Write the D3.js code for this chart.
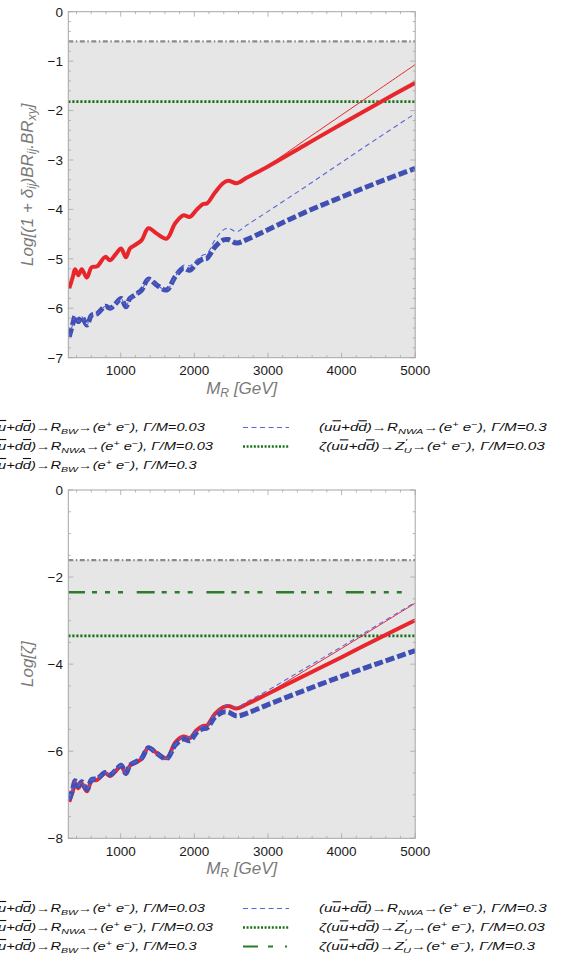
<!DOCTYPE html>
<html>
<head>
<meta charset="UTF-8">
<title>Log BR vs M_R</title>
<script src="https://cdn.jsdelivr.net/npm/d3@7"></script>
<style>
    body { margin: 0; background: #fff; }
    svg { display: block; font-family: "Liberation Sans", Arial, sans-serif; }
    .tick-label { font-size: 13.5px; fill: #1a1a1a; }
    .axis-title { font-size: 17px; font-style: italic; fill: #7a7a7a; }
    .legend text { font-size: 11px; font-style: italic; fill: #111; }
</style>
</head>
<body>
<script>
// resonance mass grid (GeV), shared by all series
var massGrid = [300, 350, 380, 425, 470, 540, 605, 680, 790, 855, 935, 1005, 1070, 1125, 1195, 1285, 1375, 1490,
    1625, 1740, 1850, 1940, 2030, 2120, 2170, 2280, 2390, 2460, 2575, 2710, 3000, 3500, 4000, 4500, 5000];

// top panel: Log[(1+delta_ij) BR_ij . BR_xy]
var topBW003 = [-5.60, -5.36, -5.21, -5.33, -5.21, -5.38, -5.17, -5.15, -4.96, -5.03, -4.90, -4.79, -4.97, -4.79, -4.72, -4.62, -4.38, -4.49,
    -4.59, -4.28, -4.12, -4.15, -4.01, -3.89, -3.88, -3.66, -3.47, -3.42, -3.47, -3.36, -3.13, -2.70, -2.27, -1.85, -1.44];
var topNWA003 = [-5.60, -5.36, -5.21, -5.33, -5.21, -5.38, -5.17, -5.15, -4.96, -5.03, -4.90, -4.79, -4.97, -4.79, -4.72, -4.62, -4.38, -4.49,
    -4.59, -4.28, -4.12, -4.15, -4.01, -3.89, -3.88, -3.66, -3.47, -3.42, -3.47, -3.36, -3.11, -2.60, -2.09, -1.58, -1.07];
var topBW03 = [-6.58, -6.31, -6.16, -6.27, -6.17, -6.34, -6.14, -6.11, -5.96, -6.00, -5.90, -5.80, -5.97, -5.80, -5.73, -5.63, -5.41, -5.53,
    -5.63, -5.36, -5.19, -5.23, -5.09, -5.00, -4.99, -4.76, -4.62, -4.61, -4.68, -4.61, -4.41, -4.06, -3.75, -3.45, -3.17];
var topNWA03 = [-6.58, -6.31, -6.16, -6.27, -6.17, -6.34, -6.14, -6.11, -5.96, -6.00, -5.90, -5.80, -5.97, -5.80, -5.73, -5.63, -5.41, -5.53,
    -5.63, -5.36, -5.13, -5.14, -5.02, -4.92, -4.90, -4.62, -4.42, -4.38, -4.45, -4.32, -4.04, -3.55, -3.05, -2.55, -2.06];
var topGrayLimit = -0.6;
var topDottedLimit = -1.82;

// bottom panel: Log[zeta]
var botBW003 = [-7.16, -6.92, -6.72, -6.85, -6.74, -6.92, -6.68, -6.66, -6.50, -6.57, -6.45, -6.33, -6.52, -6.33, -6.27, -6.17, -5.92, -6.04,
    -6.16, -5.80, -5.66, -5.70, -5.52, -5.42, -5.41, -5.14, -4.99, -4.96, -5.02, -4.92, -4.68, -4.26, -3.84, -3.41, -2.99];
var botNWA003 = [-7.16, -6.92, -6.72, -6.85, -6.74, -6.92, -6.68, -6.66, -6.50, -6.57, -6.45, -6.33, -6.52, -6.33, -6.27, -6.17, -5.92, -6.04,
    -6.16, -5.80, -5.66, -5.70, -5.52, -5.42, -5.41, -5.14, -4.99, -4.96, -5.02, -4.92, -4.66, -4.15, -3.64, -3.12, -2.60];
var botBW03 = [-7.12, -6.86, -6.68, -6.80, -6.70, -6.88, -6.65, -6.63, -6.49, -6.54, -6.43, -6.32, -6.51, -6.32, -6.25, -6.16, -5.92, -6.05,
    -6.17, -5.86, -5.72, -5.76, -5.57, -5.48, -5.47, -5.22, -5.10, -5.10, -5.19, -5.13, -4.93, -4.60, -4.28, -3.98, -3.69];
var botNWA03 = [-7.12, -6.86, -6.68, -6.80, -6.70, -6.88, -6.65, -6.63, -6.49, -6.54, -6.43, -6.32, -6.51, -6.32, -6.25, -6.16, -5.92, -6.05,
    -6.17, -5.86, -5.66, -5.68, -5.52, -5.42, -5.41, -5.14, -4.97, -4.93, -4.99, -4.87, -4.60, -4.10, -3.60, -3.09, -2.58];
var botGrayLimit = -1.61;
var botDashDotLimit = -2.35;
var botDottedLimit = -3.35;

var xTicks = [1000, 2000, 3000, 4000, 5000];
var topYTicks = [0, -1, -2, -3, -4, -5, -6, -7];
var botYTicks = [0, -2, -4, -6, -8];

var red = "#e8262c", blue = "#3f4fb4", blueThin = "#5a66d8", green = "#177317", gray = "#8a8a8a";

var svg = d3.select("body").append("svg")
    .attr("width", 565)
    .attr("height", 961);

var x = d3.scaleLinear().domain([288, 5000]).range([68.3, 415.2]);

// rich text: segments [text, kind, dx]
function rich(sel, segs) {
    var shift = 0;
    segs.forEach(function(s) {
        var kind = s[1] || "";
        var target = kind === "sub" ? 3 : kind === "sup" ? -4 : kind === "prime" ? -6 : 0;
        var ts = sel.append("tspan").attr("dy", target - shift).text(s[0]);
        if (s[2]) ts.attr("dx", s[2]);
        shift = target;
        if (kind === "sub" || kind === "sup" || kind === "prime") ts.style("font-size", "72%");
        if (kind === "o") ts.style("text-decoration", "overline");
    });
}

var qq = [["(u"], ["u", "o"], ["+d"], ["d", "o"], [")"]];
var ee = [["\u2192(e"], ["+", "sup"], [" e"], ["\u2212", "sup"], ["), "]];
function rowR(sub, width) {
    return qq.concat([["\u2192R"], [sub, "sub"]], ee, [["\u0393/M=" + width]]);
}
function rowZ(width) {
    return [["\u03b6"]].concat(qq, [["\u2192Z"], ["\u2032", "prime", 0.5], ["U", "sub", -2.5]], ee, [["\u0393/M=" + width]]);
}

function panel(cfg) {
    var g = svg.append("g");
    var y = d3.scaleLinear().domain(cfg.yDomain).range([cfg.top, cfg.bottom]);
    var x0 = x.range()[0], x1 = x.range()[1];

    g.append("rect")
        .attr("x", x0).attr("width", x1 - x0)
        .attr("y", y(cfg.grayLimit)).attr("height", cfg.bottom - y(cfg.grayLimit))
        .attr("fill", "#e6e6e6");

    var clipId = "clip" + cfg.id;
    g.append("clipPath").attr("id", clipId).append("rect")
        .attr("x", x0).attr("y", cfg.top).attr("width", x1 - x0).attr("height", cfg.bottom - cfg.top);
    var plot = g.append("g").attr("clip-path", "url(#" + clipId + ")");

    function hline(v, color, w, dash, offset) {
        plot.append("line")
            .attr("x1", x0).attr("x2", x1)
            .attr("y1", y(v)).attr("y2", y(v))
            .attr("stroke", color).attr("stroke-width", w)
            .attr("stroke-dasharray", dash)
            .attr("stroke-dashoffset", offset || 0);
    }
    hline(cfg.grayLimit, gray, 2.2, "5,2.5,1.5,2.5");
    if (cfg.dashDotLimit !== undefined) hline(cfg.dashDotLimit, "#2a7d2a", 2.5, "18,7,5,8,5,8,5,13.7", -68.4);
    hline(cfg.dottedLimit, green, 2.6, "2.2,1.8");

    var line = d3.line()
        .x(function(d) { return x(d[0]); })
        .y(function(d) { return y(d[1]); })
        .curve(d3.curveCatmullRom.alpha(0.5));
    function series(vals, color, w, dash) {
        plot.append("path")
            .datum(d3.zip(massGrid, vals))
            .attr("d", line)
            .attr("fill", "none")
            .attr("stroke", color)
            .attr("stroke-width", w)
            .attr("stroke-linejoin", "round")
            .attr("stroke-dasharray", dash || null);
    }
    series(cfg.bw003, red, 4);
    series(cfg.nwa003, red, 1);
    series(cfg.bw03, blue, 5, "9,3");
    series(cfg.nwa03, blueThin, 1.1, "5,3.5");

    // frame and ticks (Mathematica style, all four sides)
    g.append("rect")
        .attr("x", x0).attr("y", cfg.top).attr("width", x1 - x0).attr("height", cfg.bottom - cfg.top)
        .attr("fill", "none").attr("stroke", "#a6a6a6").attr("stroke-width", 1);

    var ticks = g.append("g").attr("stroke", "#a6a6a6").attr("stroke-width", 0.8);
    d3.range(400, 5001, 200).forEach(function(v) {
        var len = v % 1000 === 0 ? 5 : 2.5;
        ticks.append("line").attr("x1", x(v)).attr("x2", x(v)).attr("y1", cfg.bottom).attr("y2", cfg.bottom - len);
        ticks.append("line").attr("x1", x(v)).attr("x2", x(v)).attr("y1", cfg.top).attr("y2", cfg.top + len);
    });
    d3.range(cfg.yDomain[1], cfg.yDomain[0] + 0.001, cfg.minorStep).forEach(function(v) {
        var isMajor = cfg.yTicks.some(function(t) { return Math.abs(t - v) < 1e-6; });
        var len = isMajor ? 5 : 2.5;
        ticks.append("line").attr("x1", x0).attr("x2", x0 + len).attr("y1", y(v)).attr("y2", y(v));
        ticks.append("line").attr("x1", x1).attr("x2", x1 - len).attr("y1", y(v)).attr("y2", y(v));
    });

    g.selectAll(".xl").data(xTicks).enter().append("text")
        .attr("class", "tick-label")
        .attr("x", function(d) { return x(d); })
        .attr("y", cfg.bottom + 17.5)
        .attr("text-anchor", "middle")
        .text(function(d) { return d; });
    g.selectAll(".yl").data(cfg.yTicks).enter().append("text")
        .attr("class", "tick-label")
        .attr("x", 63)
        .attr("y", function(d) { return y(d); })
        .attr("dy", "0.36em")
        .attr("text-anchor", "end")
        .text(function(d) { return d === 0 ? "0" : "\u2212" + Math.abs(d); });

    var xt = g.append("text").attr("class", "axis-title")
        .attr("x", (x0 + x1) / 2).attr("y", cfg.bottom + 36)
        .attr("text-anchor", "middle");
    rich(xt, [["M"], ["R", "sub"], [" [GeV]"]]);

    var yt = g.append("text").attr("class", "axis-title")
        .attr("transform", "translate(33," + (cfg.top + cfg.bottom) / 2 + ") rotate(-90)")
        .attr("text-anchor", "middle");
    rich(yt, cfg.yTitle);

    // legend
    var leg = g.append("g").attr("class", "legend");
    cfg.legend.forEach(function(item) {
        var t = leg.append("text");
        rich(t, item.segs);
        var w = t.node().getComputedTextLength();
        t.attr("transform", "translate(" + item.x + "," + item.y + ") scale(" + (item.w / w) + ",1)");
        if (item.sample) {
            leg.append("line")
                .attr("x1", 243).attr("x2", 289)
                .attr("y1", item.y - 3.5).attr("y2", item.y - 3.5)
                .attr("stroke", item.sample.color)
                .attr("stroke-width", item.sample.w)
                .attr("stroke-dasharray", item.sample.dash);
        }
    });
}

panel({
    id: "top", top: 11.7, bottom: 357.7, yDomain: [0, -7], yTicks: topYTicks, minorStep: 0.2,
    grayLimit: topGrayLimit, dottedLimit: topDottedLimit,
    bw003: topBW003, nwa003: topNWA003, bw03: topBW03, nwa03: topNWA03,
    yTitle: [["Log[(1 + \u03b4"], ["ij", "sub"], [")BR"], ["ij", "sub"], [".BR"], ["xy", "sub"], ["]"]],
    legend: [
        { segs: rowR("BW", "0.03"), x: -15, y: 431, w: 220 },
        { segs: rowR("NWA", "0.03"), x: -15, y: 450, w: 228 },
        { segs: rowR("BW", "0.3"), x: -15, y: 469, w: 212 },
        { segs: rowR("NWA", "0.3"), x: 319, y: 431, w: 228, sample: { color: blueThin, w: 1, dash: "5,3.5" } },
        { segs: rowZ("0.03"), x: 319, y: 450, w: 229, sample: { color: green, w: 2.5, dash: "2,1.6" } }
    ]
});

panel({
    id: "bot", top: 490, bottom: 838.3, yDomain: [0, -8], yTicks: botYTicks, minorStep: 0.5,
    grayLimit: botGrayLimit, dottedLimit: botDottedLimit, dashDotLimit: botDashDotLimit,
    bw003: botBW003, nwa003: botNWA003, bw03: botBW03, nwa03: botNWA03,
    yTitle: [["Log[\u03b6]"]],
    legend: [
        { segs: rowR("BW", "0.03"), x: -15, y: 912, w: 220 },
        { segs: rowR("NWA", "0.03"), x: -15, y: 931, w: 228 },
        { segs: rowR("BW", "0.3"), x: -15, y: 950, w: 212 },
        { segs: rowR("NWA", "0.3"), x: 319, y: 912, w: 228, sample: { color: blueThin, w: 1, dash: "5,3.5" } },
        { segs: rowZ("0.03"), x: 319, y: 931, w: 229, sample: { color: green, w: 2.5, dash: "2,1.6" } },
        { segs: rowZ("0.3"), x: 319, y: 950, w: 219, sample: { color: "#2a7d2a", w: 2, dash: "15,10,5,12,2,100" } }
    ]
});
</script>
</body>
</html>
